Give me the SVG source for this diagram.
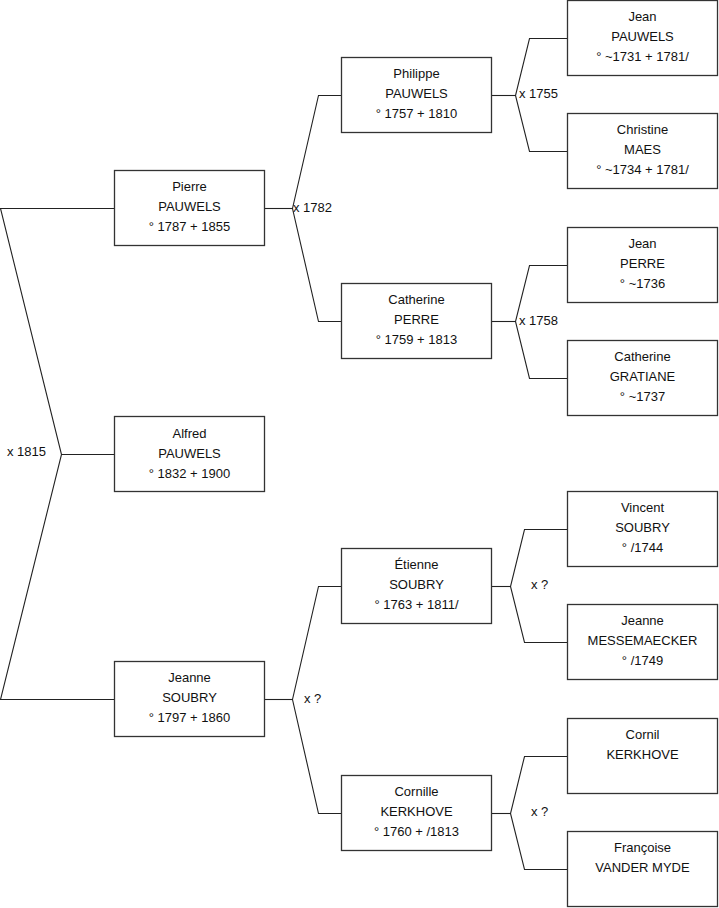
<svg xmlns="http://www.w3.org/2000/svg" width="719" height="908" viewBox="0 0 719 908">
<style>
.box{fill:#fff;stroke:#333;stroke-width:1.3}
.ln{fill:none;stroke:#222;stroke-width:1.1}
text{font-family:"Liberation Sans",Arial,sans-serif;font-size:13px;fill:#111}
.c{text-anchor:middle}
</style>
<rect width="719" height="908" fill="#fff"/>
<g id="connectors">
<polyline class="ln" points="114,208.5 0.5,208.5 61.5,454.5 0.5,699.5 114,699.5"/>
<line class="ln" x1="61.5" y1="454.5" x2="114" y2="454.5"/>
<polyline class="ln" points="341,95.5 318.5,95.5 292.5,208.5 318.5,321.5 341,321.5"/>
<line class="ln" x1="265" y1="208.5" x2="292.5" y2="208.5"/>
<polyline class="ln" points="341,586.5 318.5,586.5 292.5,699.5 318.5,813.5 341,813.5"/>
<line class="ln" x1="265" y1="699.5" x2="292.5" y2="699.5"/>
<polyline class="ln" points="567,38.5 529.5,38.5 515.5,95.5 529.5,151.5 567,151.5"/>
<line class="ln" x1="492" y1="95.5" x2="515.5" y2="95.5"/>
<polyline class="ln" points="567,265.5 529.5,265.5 515.5,321.5 529.5,378.5 567,378.5"/>
<line class="ln" x1="492" y1="321.5" x2="515.5" y2="321.5"/>
<polyline class="ln" points="567,529.5 524.5,529.5 510.5,586.5 524.5,642.5 567,642.5"/>
<line class="ln" x1="492" y1="586.5" x2="510.5" y2="586.5"/>
<polyline class="ln" points="567,756.5 524.5,756.5 510.5,813.5 524.5,869.5 567,869.5"/>
<line class="ln" x1="492" y1="813.5" x2="510.5" y2="813.5"/>
<text x="7" y="456">x 1815</text>
<text x="293" y="212">x 1782</text>
<text x="519" y="98">x 1755</text>
<text x="519" y="325">x 1758</text>
<text x="304" y="703">x ?</text>
<text x="531" y="589">x ?</text>
<text x="531" y="816">x ?</text>
</g>
<g id="alfred"><rect class="box" x="114.5" y="416.5" width="150" height="75"/><text class="c" x="189.5" y="438">Alfred</text><text class="c" x="189.5" y="458">PAUWELS</text><text class="c" x="189.5" y="478">° 1832 + 1900</text></g>
<g id="pierre"><rect class="box" x="114.5" y="170.5" width="150" height="75"/><text class="c" x="189.5" y="191">Pierre</text><text class="c" x="189.5" y="211">PAUWELS</text><text class="c" x="189.5" y="231">° 1787 + 1855</text></g>
<g id="jeanne"><rect class="box" x="114.5" y="661.5" width="150" height="75"/><text class="c" x="189.5" y="682">Jeanne</text><text class="c" x="189.5" y="702">SOUBRY</text><text class="c" x="189.5" y="722">° 1797 + 1860</text></g>
<g id="philippe"><rect class="box" x="341.5" y="57.5" width="150" height="75"/><text class="c" x="416.5" y="78">Philippe</text><text class="c" x="416.5" y="98">PAUWELS</text><text class="c" x="416.5" y="118">° 1757 + 1810</text></g>
<g id="catherine-perre"><rect class="box" x="341.5" y="283.5" width="150" height="75"/><text class="c" x="416.5" y="304">Catherine</text><text class="c" x="416.5" y="324">PERRE</text><text class="c" x="416.5" y="344">° 1759 + 1813</text></g>
<g id="etienne"><rect class="box" x="341.5" y="548.5" width="150" height="75"/><text class="c" x="416.5" y="569">Étienne</text><text class="c" x="416.5" y="589">SOUBRY</text><text class="c" x="416.5" y="609">° 1763 + 1811/</text></g>
<g id="cornille"><rect class="box" x="341.5" y="775.5" width="150" height="75"/><text class="c" x="416.5" y="796">Cornille</text><text class="c" x="416.5" y="816">KERKHOVE</text><text class="c" x="416.5" y="836">° 1760 + /1813</text></g>
<g id="jean-pauwels"><rect class="box" x="567.5" y="0.5" width="150" height="75"/><text class="c" x="642.5" y="21">Jean</text><text class="c" x="642.5" y="41">PAUWELS</text><text class="c" x="642.5" y="61">° ~1731 + 1781/</text></g>
<g id="christine"><rect class="box" x="567.5" y="113.5" width="150" height="75"/><text class="c" x="642.5" y="134">Christine</text><text class="c" x="642.5" y="154">MAES</text><text class="c" x="642.5" y="174">° ~1734 + 1781/</text></g>
<g id="jean-perre"><rect class="box" x="567.5" y="227.5" width="150" height="75"/><text class="c" x="642.5" y="248">Jean</text><text class="c" x="642.5" y="268">PERRE</text><text class="c" x="642.5" y="288">° ~1736</text></g>
<g id="catherine-gratiane"><rect class="box" x="567.5" y="340.5" width="150" height="75"/><text class="c" x="642.5" y="361">Catherine</text><text class="c" x="642.5" y="381">GRATIANE</text><text class="c" x="642.5" y="401">° ~1737</text></g>
<g id="vincent"><rect class="box" x="567.5" y="491.5" width="150" height="75"/><text class="c" x="642.5" y="512">Vincent</text><text class="c" x="642.5" y="532">SOUBRY</text><text class="c" x="642.5" y="552">° /1744</text></g>
<g id="jeanne-messemaecker"><rect class="box" x="567.5" y="604.5" width="150" height="75"/><text class="c" x="642.5" y="625">Jeanne</text><text class="c" x="642.5" y="645">MESSEMAECKER</text><text class="c" x="642.5" y="665">° /1749</text></g>
<g id="cornil"><rect class="box" x="567.5" y="718.5" width="150" height="75"/><text class="c" x="642.5" y="739">Cornil</text><text class="c" x="642.5" y="759">KERKHOVE</text></g>
<g id="francoise"><rect class="box" x="567.5" y="831.5" width="150" height="75"/><text class="c" x="642.5" y="852">Françoise</text><text class="c" x="642.5" y="872">VANDER MYDE</text></g>
</svg>
